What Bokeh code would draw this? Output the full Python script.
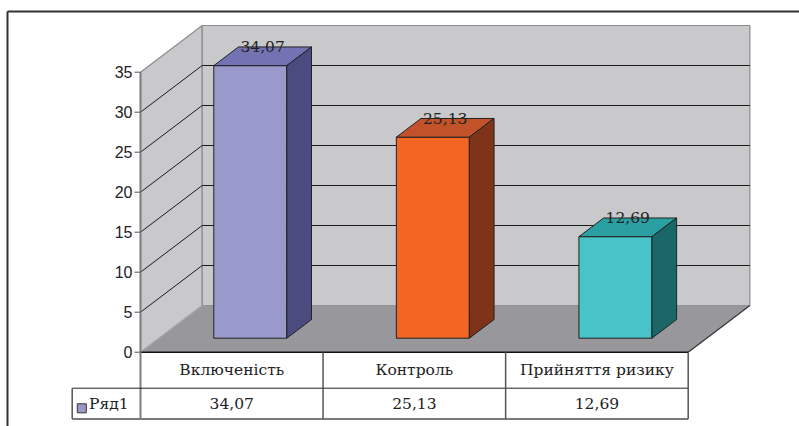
from bokeh.plotting import figure
from bokeh.models import Range1d
from bokeh.core.properties import value
from bokeh.embed import file_html
from bokeh.resources import INLINE

# ---- data ----
categories = ["Включеність", "Контроль", "Прийняття ризику"]
values = [34.07, 25.13, 12.69]
value_labels = ["34,07", "25,13", "12,69"]
series_name = "Ряд1"
y_ticks = [0, 5, 10, 15, 20, 25, 30, 35]
y_max = 35

# ---- styles ----
front_colors = ["#9999cc", "#f26522", "#48c4c8"]
top_colors = ["#7373b3", "#c2522a", "#2aa0a2"]
side_colors = ["#4b4b80", "#7f3419", "#1b6767"]
wall_color = "#c9c9cb"
floor_color = "#98989c"
SANS = value("Liberation Sans")
SERIF = value("DejaVu Serif")
SERIF_SIZE = "15.5px"

# ---- layout (pixels) ----
W, H = 799, 426
PX_X0, PX_X1 = 140.0, 687.7      # front plane left / right
PX_Y0 = 351.7                    # value 0 on the front plane
PX_PER_UNIT = 8.0
DEPTH_DX, DEPTH_DY = 61.7, 46.7

ncat = len(categories)
px_per_cat = (PX_X1 - PX_X0) / ncat


def X(px):
    return (px - PX_X0) / px_per_cat


def Y(py):
    return (PX_Y0 - py) / PX_PER_UNIT


ddx = DEPTH_DX / px_per_cat
ddy = DEPTH_DY / PX_PER_UNIT

p = figure(width=W, height=H, x_range=Range1d(X(0), X(W)), y_range=Range1d(Y(H), Y(0)),
           output_backend="svg", toolbar_location=None, min_border=0,
           x_axis_type=None, y_axis_type=None)
p.grid.visible = False
p.outline_line_color = None
p.background_fill_color = "white"
p.border_fill_color = "white"

# outer frame
p.line([X(7), X(W)], [Y(11), Y(11)], line_color="#333333", line_width=2)
p.line([X(7), X(7)], [Y(11), Y(H)], line_color="#333333", line_width=2)

# walls and floor
p.patch([0, ddx, ddx, 0], [0, ddy, y_max + ddy, y_max],
        fill_color=wall_color, line_color="#8c8c8c", line_width=1.2)
p.patch([ddx, ncat + ddx, ncat + ddx, ddx], [ddy, ddy, y_max + ddy, y_max + ddy],
        fill_color=wall_color, line_color="#8c8c8c", line_width=1.2)
p.patch([0, ncat, ncat + ddx, ddx], [0, 0, ddy, ddy],
        fill_color=floor_color, line_color=None)
p.line([0, ddx], [0, ddy], line_color="#b0b0b0", line_width=1)
p.line([ncat, ncat + ddx], [0, ddy], line_color="#333333", line_width=1.2)

# gridlines
grid_t = [t for t in y_ticks if 0 < t < y_max]
p.segment(x0=[ddx] * len(grid_t), y0=[t + ddy for t in grid_t],
          x1=[ncat + ddx] * len(grid_t), y1=[t + ddy for t in grid_t],
          line_color="#1a1a1a", line_width=1)
p.segment(x0=[0] * len(grid_t), y0=grid_t,
          x1=[ddx] * len(grid_t), y1=[t + ddy for t in grid_t],
          line_color="#1a1a1a", line_width=1)

# bars
f1, f2, bw = 0.3, 0.7, 0.4
for i, v in enumerate(values):
    c = i + 0.5
    l, r = c - bw / 2, c + bw / 2
    p.patch([l + f1 * ddx, r + f1 * ddx, r + f1 * ddx, l + f1 * ddx],
            [f1 * ddy, f1 * ddy, v + f1 * ddy, v + f1 * ddy],
            fill_color=front_colors[i], line_color="#222222", line_width=1)
    p.patch([l + f1 * ddx, r + f1 * ddx, r + f2 * ddx, l + f2 * ddx],
            [v + f1 * ddy, v + f1 * ddy, v + f2 * ddy, v + f2 * ddy],
            fill_color=top_colors[i], line_color="#222222", line_width=1)
    p.patch([r + f1 * ddx, r + f2 * ddx, r + f2 * ddx, r + f1 * ddx],
            [f1 * ddy, f2 * ddy, v + f2 * ddy, v + f1 * ddy],
            fill_color=side_colors[i], line_color="#222222", line_width=1)

# data labels
p.text(x=[i + 0.5 + 0.5 * ddx for i in range(ncat)],
       y=[v + f2 * ddy for v in values], text=value_labels,
       text_align="center", text_baseline="middle", text_font=SERIF,
       text_font_size=SERIF_SIZE, text_color="#222222")

# floor front edge
p.line([0, ncat], [0, 0], line_color="#111111", line_width=1.5)

# y axis (front edge of left wall), ticks, labels
row_mid, row_bot = Y(387.7), Y(418.5)
p.line([0, 0], [y_max, row_bot], line_color="#7f7f7f", line_width=2)
p.segment(x0=[X(134)] * len(y_ticks), y0=y_ticks, x1=[0] * len(y_ticks), y1=y_ticks,
          line_color="#555555", line_width=1)
p.text(x=[X(132)] * len(y_ticks), y=y_ticks, text=[str(t) for t in y_ticks],
       text_align="right", text_baseline="middle", text_font=SANS,
       text_font_size="16px", text_color="#222222")

# data table
leg_left = X(71.7)
p.line([leg_left, ncat], [row_mid, row_mid], line_color="#222222", line_width=1)
p.line([leg_left, ncat], [row_bot, row_bot], line_color="#7a7a7a", line_width=2)
p.segment(x0=list(range(1, ncat + 1)), y0=[0] * ncat,
          x1=list(range(1, ncat + 1)), y1=[row_bot] * ncat,
          line_color="#555555", line_width=1.5)
p.line([leg_left, leg_left], [row_mid, row_bot], line_color="#555555", line_width=1.5)

p.text(x=[i + 0.5 for i in range(ncat)], y=[row_mid / 2] * ncat, text=categories,
       text_align="center", text_baseline="middle", text_font=SERIF,
       text_font_size=SERIF_SIZE, text_color="#222222")
p.text(x=[i + 0.5 for i in range(ncat)], y=[(row_mid + row_bot) / 2] * ncat,
       text=value_labels, text_align="center", text_baseline="middle",
       text_font=SERIF, text_font_size=SERIF_SIZE, text_color="#222222")

p.scatter(x=[X(81.3)], y=[Y(407.8)], marker="square", size=9,
          fill_color=front_colors[0], line_color="#333333", line_width=1)
p.text(x=[X(88.5)], y=[(row_mid + row_bot) / 2], text=[series_name],
       text_align="left", text_baseline="middle", text_font=SERIF,
       text_font_size=SERIF_SIZE, text_color="#222222")

open("out.html", "w").write(file_html(p, INLINE))
